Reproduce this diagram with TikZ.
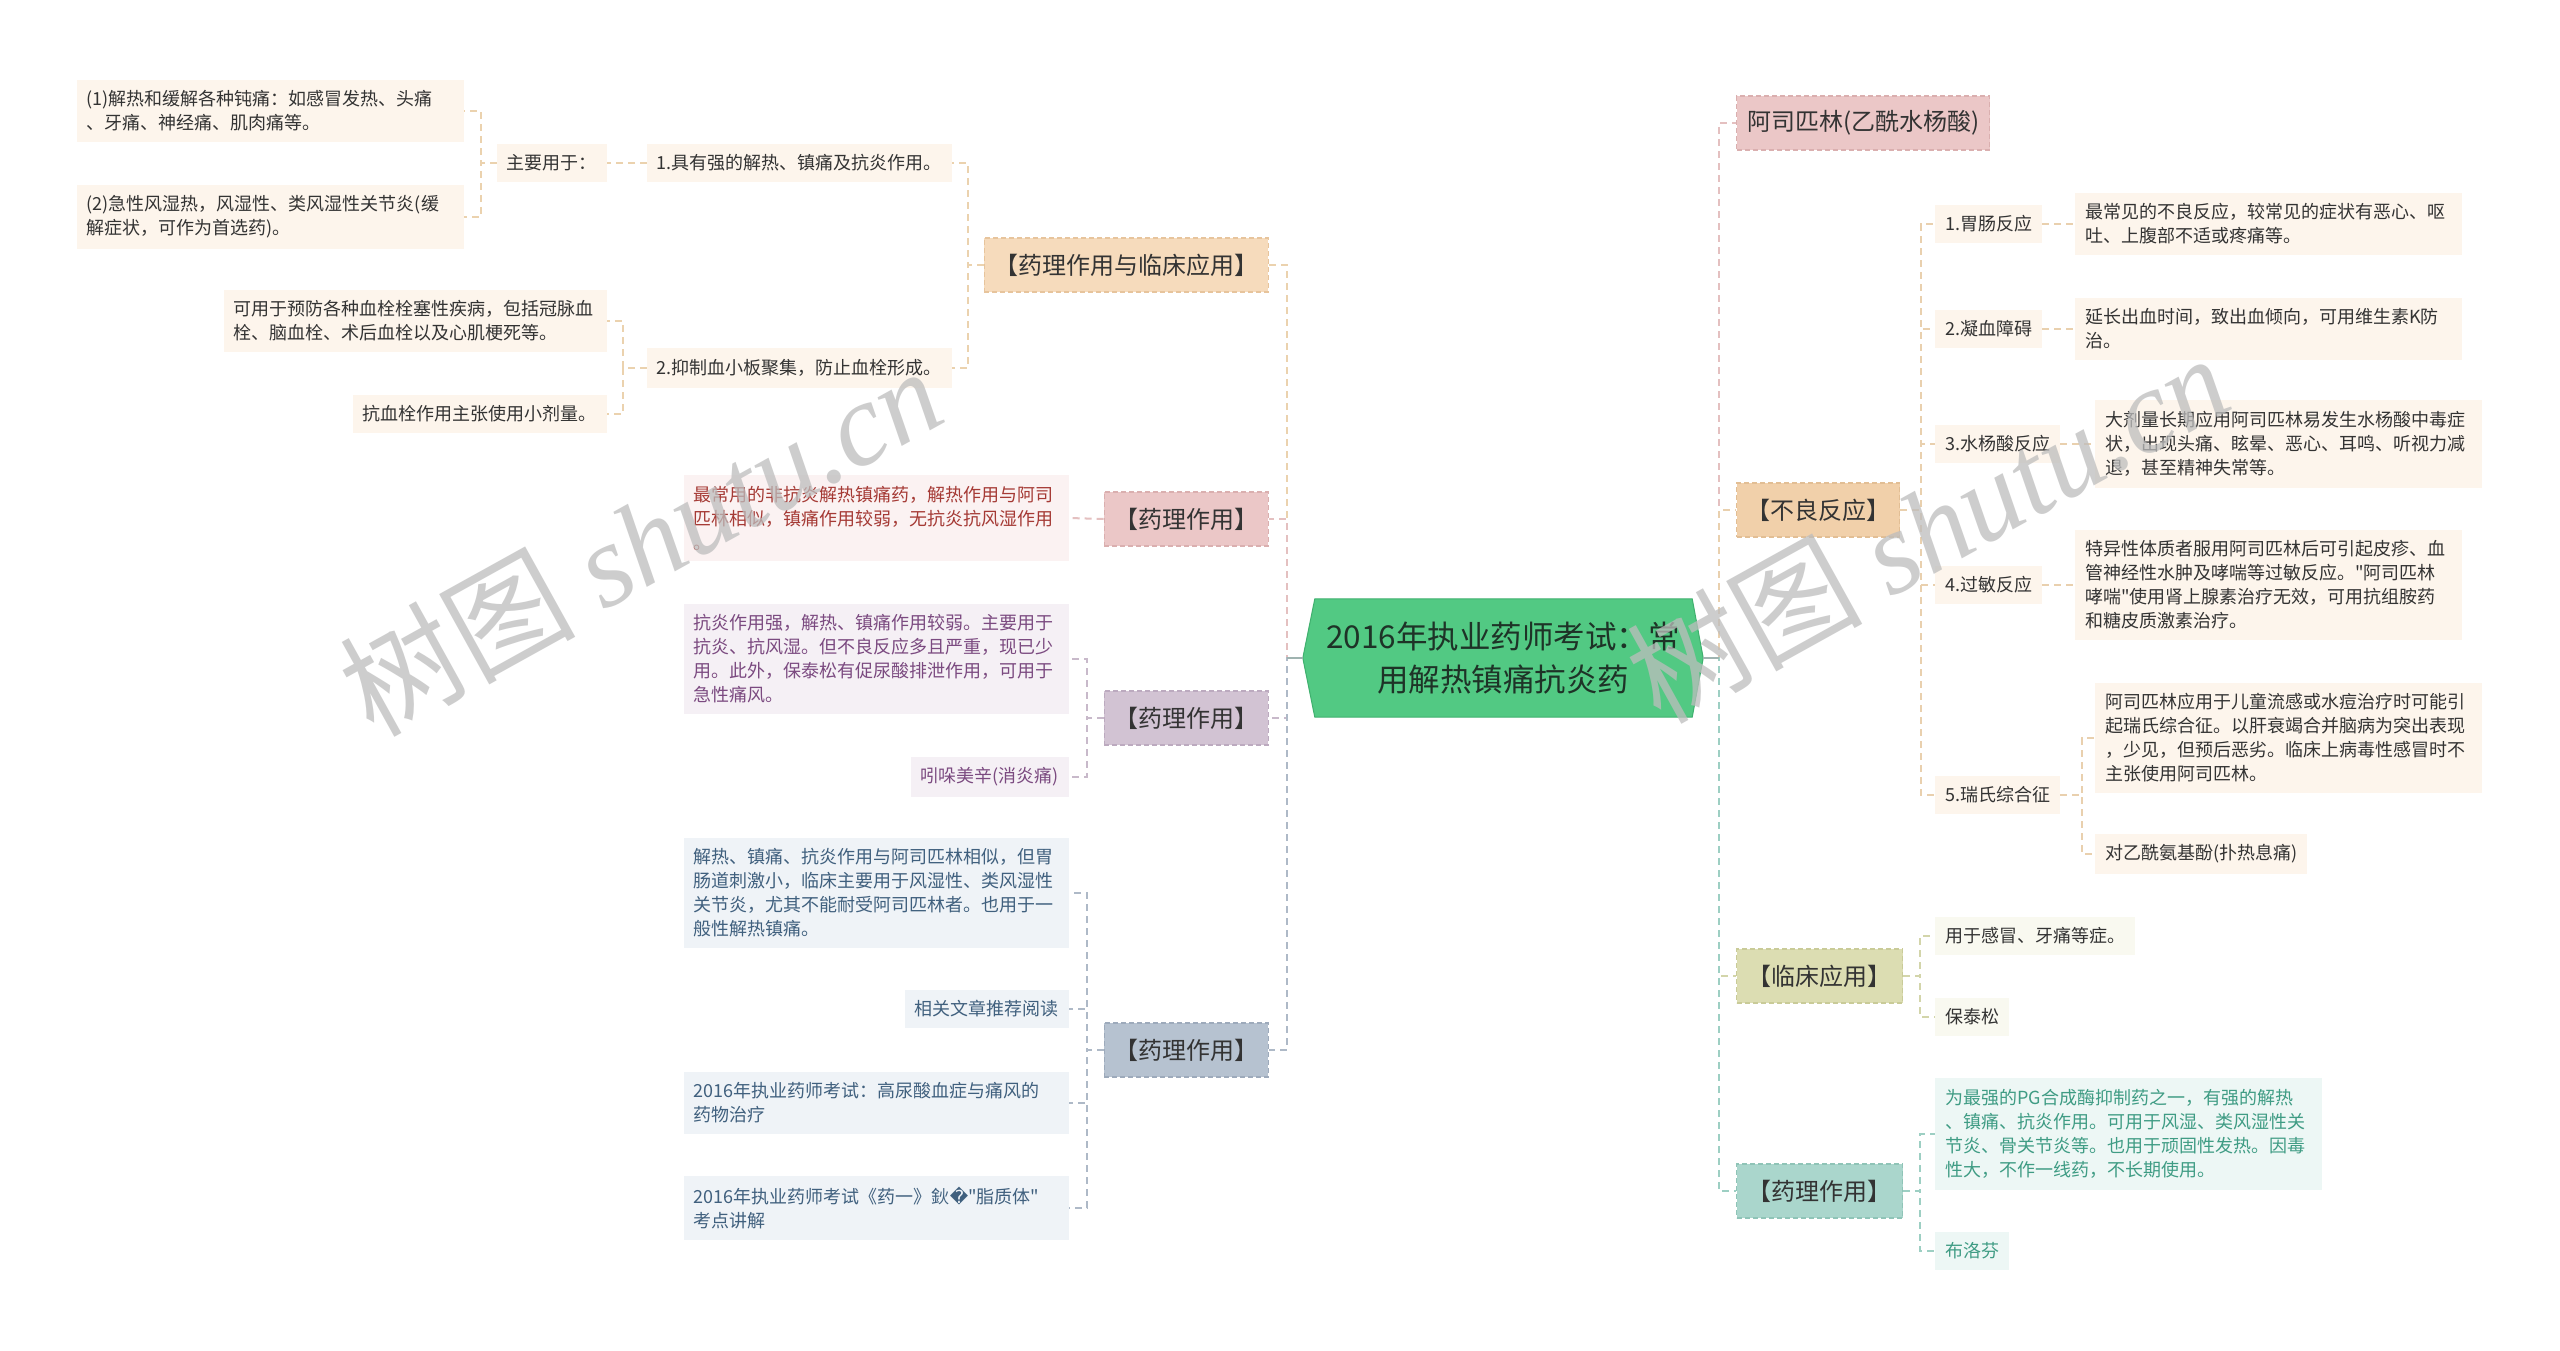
\documentclass[tikz,border=0pt]{standalone}
\usepackage{fontspec}
\setmainfont{Noto Sans CJK SC}
\newfontfamily\nq{Noto Sans CJK SC}[Ligatures=TeXOff]
\newfontfamily\dvs{DejaVu Sans}
\newfontfamily\wmserif{Liberation Serif}
\usetikzlibrary{backgrounds}
\newcommand{\sq}{{\nq"}}
\definecolor{txtdark}{HTML}{333333}
\definecolor{ctrfill}{HTML}{52C983}
\definecolor{ctrline}{HTML}{3FB06E}
\definecolor{ctrtext}{HTML}{1E3327}
% level-1 fills / borders / connectors
\definecolor{peachF}{HTML}{F6DBBC}\definecolor{peachB}{HTML}{E7C49C}\definecolor{peachC}{HTML}{EBD2AE}
\definecolor{tanF}{HTML}{F1D0AA}\definecolor{tanB}{HTML}{E2BE94}\definecolor{tanC}{HTML}{E9D0AE}
\definecolor{pinkF}{HTML}{EBC7C7}\definecolor{pinkB}{HTML}{DAAFAF}\definecolor{pinkC}{HTML}{E4C0C0}
\definecolor{purF}{HTML}{D2C3D3}\definecolor{purB}{HTML}{BCAABF}\definecolor{purC}{HTML}{C8B9CA}
\definecolor{bluF}{HTML}{B6C2D0}\definecolor{bluB}{HTML}{9DAABB}\definecolor{bluC}{HTML}{AEB9C7}
\definecolor{oliF}{HTML}{DCDDB2}\definecolor{oliB}{HTML}{C9CB98}\definecolor{oliC}{HTML}{D3D5AA}
\definecolor{tealF}{HTML}{AAD6CC}\definecolor{tealB}{HTML}{8FC4B7}\definecolor{tealC}{HTML}{9DCFC3}
% leaf fills / texts
\definecolor{peachL}{HTML}{FDF5EC}
\definecolor{pinkL}{HTML}{FBF2F2}\definecolor{pinkT}{HTML}{A53A35}
\definecolor{purL}{HTML}{F5F0F5}\definecolor{purT}{HTML}{7B4A80}
\definecolor{bluL}{HTML}{EFF3F7}\definecolor{bluT}{HTML}{40607E}
\definecolor{oliL}{HTML}{F9F9F0}
\definecolor{tealL}{HTML}{EDF7F5}\definecolor{tealT}{HTML}{3F9C84}
\definecolor{stubC}{HTML}{9FB3B0}
\definecolor{wmC}{HTML}{BDBDBD}
\begin{document}
\begin{tikzpicture}[x=1pt,y=1pt,
  conn/.style={draw=#1, line width=2pt, dash pattern=on 7pt off 5pt},
  stub/.style={draw=stubC, line width=2pt},
  lvl/.style n args={3}{fill=#1, draw=#2, line width=1.3pt, dash pattern=on 5pt off 3pt,
     minimum width=#3, minimum height=54pt, inner sep=0pt, text=txtdark,
     font=\fontsize{24}{28}\selectfont},
  leaf/.style 2 args={fill=#1, text=#2, inner xsep=10pt, inner ysep=11pt,
     font=\fontsize{18}{24}\selectfont, align=left},
  ctrnode/.style={minimum width=400pt, minimum height=118pt, inner sep=0pt, align=center,
     text=ctrtext, font=\fontsize{31.5}{43}\selectfont},
  wm/.style={text=wmC, opacity=0.75, font=\fontsize{118}{118}\selectfont, inner sep=0pt}
]
\useasboundingbox (0,0) rectangle (2560,-1351);

% elbow coordinates
\coordinate (eL) at (1287,0);
\coordinate (eR) at (1719,0);
\coordinate (eA1) at (968,0);
\coordinate (eZ) at (481,0);
\coordinate (eP2) at (623,0);
\coordinate (eA3) at (1087,0);
\coordinate (eB2) at (1921,0);
\coordinate (eR5) at (2082,0);
\coordinate (eB3) at (1920,0);

% centre
\node[ctrnode] (ctr) at (1503,-658) {2016年执业药师考试：常\\用解热镇痛抗炎药};

% left level 1
\node[lvl={peachF}{peachB}{284pt}, anchor=east] (A1) at (1269,-265) {【药理作用与临床应用】};
\node[lvl={pinkF}{pinkB}{164pt}, anchor=east] (A2) at (1269,-519) {【药理作用】};
\node[lvl={purF}{purB}{164pt}, anchor=east] (A3) at (1269,-718) {【药理作用】};
\node[lvl={bluF}{bluB}{164pt}, anchor=east] (A4) at (1269,-1050) {【药理作用】};

% left leaves, branch A1
\node[leaf={peachL}{txtdark}, anchor=east] (p1) at (952,-163) {1.具有强的解热、镇痛及抗炎作用。};
\node[leaf={peachL}{txtdark}, anchor=east] (zy) at (607,-163) {主要用于：};
\node[leaf={peachL}{txtdark}, anchor=east, text width=367pt] (q1) at (464,-111) {(1)解热和缓解各种钝痛：如感冒发热、头痛\\、牙痛、神经痛、肌肉痛等。};
\node[leaf={peachL}{txtdark}, anchor=east, text width=367pt] (q2) at (464,-217) {(2)急性风湿热，风湿性、类风湿性关节炎(缓\\解症状，可作为首选药)。};
\node[leaf={peachL}{txtdark}, anchor=east] (p2) at (952,-368) {2.抑制血小板聚集，防止血栓形成。};
\node[leaf={peachL}{txtdark}, anchor=east, text width=363pt] (c1) at (607,-321) {可用于预防各种血栓栓塞性疾病，包括冠脉血\\栓、脑血栓、术后血栓以及心肌梗死等。};
\node[leaf={peachL}{txtdark}, anchor=east] (c2) at (607,-414) {抗血栓作用主张使用小剂量。};

% branch A2
\node[leaf={pinkL}{pinkT}, anchor=east, text width=365pt] (pk) at (1069,-518) {最常用的非抗炎解热镇痛药，解热作用与阿司\\匹林相似，镇痛作用较弱，无抗炎抗风湿作用\\。};
% branch A3
\node[leaf={purL}{purT}, anchor=east, text width=365pt] (pu1) at (1069,-659) {抗炎作用强，解热、镇痛作用较弱。主要用于\\抗炎、抗风湿。但不良反应多且严重，现已少\\用。此外，保泰松有促尿酸排泄作用，可用于\\急性痛风。};
\node[leaf={purL}{purT}, anchor=east] (pu2) at (1069,-777) {吲哚美辛(消炎痛)};
% branch A4
\node[leaf={bluL}{bluT}, anchor=east, text width=365pt] (bl1) at (1069,-893) {解热、镇痛、抗炎作用与阿司匹林相似，但胃\\肠道刺激小，临床主要用于风湿性、类风湿性\\关节炎，尤其不能耐受阿司匹林者。也用于一\\般性解热镇痛。};
\node[leaf={bluL}{bluT}, anchor=east] (bl2) at (1069,-1009) {相关文章推荐阅读};
\node[leaf={bluL}{bluT}, anchor=east, text width=365pt] (bl3) at (1069,-1103) {2016年执业药师考试：高尿酸血症与痛风的\\药物治疗};
\node[leaf={bluL}{bluT}, anchor=east, text width=365pt] (bl4) at (1069,-1208) {2016年执业药师考试《药一》鈥{\dvs\char"FFFD}\sq 脂质体\sq\\考点讲解};

% right level 1
\node[lvl={pinkF}{pinkB}{253pt}, anchor=west] (B1) at (1736,-123) {阿司匹林(乙酰水杨酸)};
\node[lvl={tanF}{tanB}{163pt}, anchor=west] (B2) at (1736,-510) {【不良反应】};
\node[lvl={oliF}{oliB}{166pt}, anchor=west] (B3) at (1736,-976) {【临床应用】};
\node[lvl={tealF}{tealB}{166pt}, anchor=west] (B4) at (1736,-1191) {【药理作用】};

% branch B2
\node[leaf={peachL}{txtdark}, anchor=west] (r1) at (1935,-224) {1.胃肠反应};
\node[leaf={peachL}{txtdark}, anchor=west, text width=367pt] (r1d) at (2075,-224) {最常见的不良反应，较常见的症状有恶心、呕\\吐、上腹部不适或疼痛等。};
\node[leaf={peachL}{txtdark}, anchor=west] (r2) at (1935,-329) {2.凝血障碍};
\node[leaf={peachL}{txtdark}, anchor=west, text width=367pt] (r2d) at (2075,-329) {延长出血时间，致出血倾向，可用维生素K防\\治。};
\node[leaf={peachL}{txtdark}, anchor=west] (r3) at (1935,-444) {3.水杨酸反应};
\node[leaf={peachL}{txtdark}, anchor=west, text width=367pt] (r3d) at (2095,-444) {大剂量长期应用阿司匹林易发生水杨酸中毒症\\状，出现头痛、眩晕、恶心、耳鸣、听视力减\\退，甚至精神失常等。};
\node[leaf={peachL}{txtdark}, anchor=west] (r4) at (1935,-585) {4.过敏反应};
\node[leaf={peachL}{txtdark}, anchor=west, text width=367pt] (r4d) at (2075,-585) {特异性体质者服用阿司匹林后可引起皮疹、血\\管神经性水肿及哮喘等过敏反应。\sq 阿司匹林\\哮喘\sq 使用肾上腺素治疗无效，可用抗组胺药\\和糖皮质激素治疗。};
\node[leaf={peachL}{txtdark}, anchor=west] (r5) at (1935,-795) {5.瑞氏综合征};
\node[leaf={peachL}{txtdark}, anchor=west, text width=367pt] (r5a) at (2095,-738) {阿司匹林应用于儿童流感或水痘治疗时可能引\\起瑞氏综合征。以肝衰竭合并脑病为突出表现\\，少见，但预后恶劣。临床上病毒性感冒时不\\主张使用阿司匹林。};
\node[leaf={peachL}{txtdark}, anchor=west] (r5b) at (2095,-854) {对乙酰氨基酚(扑热息痛)};

% branch B3
\node[leaf={oliL}{txtdark}, anchor=west] (k1) at (1935,-936) {用于感冒、牙痛等症。};
\node[leaf={oliL}{txtdark}, anchor=west] (k2) at (1935,-1017) {保泰松};
% branch B4
\node[leaf={tealL}{tealT}, anchor=west, text width=367pt] (t1) at (1935,-1134) {为最强的PG合成酶抑制药之一，有强的解热\\、镇痛、抗炎作用。可用于风湿、类风湿性关\\节炎、骨关节炎等。也用于顽固性发热。因毒\\性大，不作一线药，不长期使用。};
\node[leaf={tealL}{tealT}, anchor=west] (t2) at (1935,-1251) {布洛芬};

\begin{scope}[on background layer]
  \fill[white] (0,0) rectangle (2560,-1351);
  % centre shape
  \filldraw[fill=ctrfill, draw=ctrline, line width=1pt]
    (ctr.west) -- ([xshift=12pt]ctr.north west) -- ([xshift=-11pt]ctr.north east)
    -- (ctr.east) -- ([xshift=-11pt]ctr.south east) -- ([xshift=12pt]ctr.south west) -- cycle;
  % trunk connectors left
  \draw[conn=peachC] (ctr.west) -- (ctr.west -| eL) |- (A1.east);
  \draw[conn=pinkC] (ctr.west) -- (ctr.west -| eL) |- (A2.east);
  \draw[conn=purC] (ctr.west) -- (ctr.west -| eL) |- (A3.east);
  \draw[conn=bluC] (ctr.west) -- (ctr.west -| eL) |- (A4.east);
  \draw[stub] (ctr.west) -- (ctr.west -| eL);
  % trunk connectors right
  \draw[conn=pinkC] (ctr.east) -- (ctr.east -| eR) |- (B1.west);
  \draw[conn=tanC] (ctr.east) -- (ctr.east -| eR) |- (B2.west);
  \draw[conn=oliC] (ctr.east) -- (ctr.east -| eR) |- (B3.west);
  \draw[conn=tealC] (ctr.east) -- (ctr.east -| eR) |- (B4.west);
  \draw[stub] (ctr.east) -- (ctr.east -| eR);
  % A1 subtree
  \draw[conn=peachC] (A1.west) -- (A1.west -| eA1) |- (p1.east);
  \draw[conn=peachC] (A1.west) -- (A1.west -| eA1) |- (p2.east);
  \draw[conn=peachC] (p1.west) -- (zy.east);
  \draw[conn=peachC] (zy.west) -- (zy.west -| eZ) |- (q1.east);
  \draw[conn=peachC] (zy.west) -- (zy.west -| eZ) |- (q2.east);
  \draw[conn=peachC] (p2.west) -- (p2.west -| eP2) |- (c1.east);
  \draw[conn=peachC] (p2.west) -- (p2.west -| eP2) |- (c2.east);
  % A2
  \draw[conn=pinkC] (A2.west) -- (pk.east);
  % A3
  \draw[conn=purC] (A3.west) -- (A3.west -| eA3) |- (pu1.east);
  \draw[conn=purC] (A3.west) -- (A3.west -| eA3) |- (pu2.east);
  % A4
  \draw[conn=bluC] (A4.west) -- (A4.west -| eA3) |- (bl1.east);
  \draw[conn=bluC] (A4.west) -- (A4.west -| eA3) |- (bl2.east);
  \draw[conn=bluC] (A4.west) -- (A4.west -| eA3) |- (bl3.east);
  \draw[conn=bluC] (A4.west) -- (A4.west -| eA3) |- (bl4.east);
  % B2
  \foreach \n in {r1,r2,r3,r4,r5}
    \draw[conn=tanC] (B2.east) -- (B2.east -| eB2) |- (\n.west);
  \draw[conn=tanC] (r1.east) -- (r1d.west);
  \draw[conn=tanC] (r2.east) -- (r2d.west);
  \draw[conn=tanC] (r3.east) -- (r3d.west);
  \draw[conn=tanC] (r4.east) -- (r4d.west);
  \draw[conn=tanC] (r5.east) -- (r5.east -| eR5) |- (r5a.west);
  \draw[conn=tanC] (r5.east) -- (r5.east -| eR5) |- (r5b.west);
  % B3
  \draw[conn=oliC] (B3.east) -- (B3.east -| eB3) |- (k1.west);
  \draw[conn=oliC] (B3.east) -- (B3.east -| eB3) |- (k2.west);
  % B4
  \draw[conn=tealC] (B4.east) -- (B4.east -| eB3) |- (t1.west);
  \draw[conn=tealC] (B4.east) -- (B4.east -| eB3) |- (t2.west);
\end{scope}

% watermarks
\node[wm, rotate=29] (wm1) at (640,-540) {树图 {\wmserif\itshape shutu.cn}};
\node[wm, rotate=29] (wm2) at (1927,-527) {树图 {\wmserif\itshape shutu.cn}};
\end{tikzpicture}
\end{document}
